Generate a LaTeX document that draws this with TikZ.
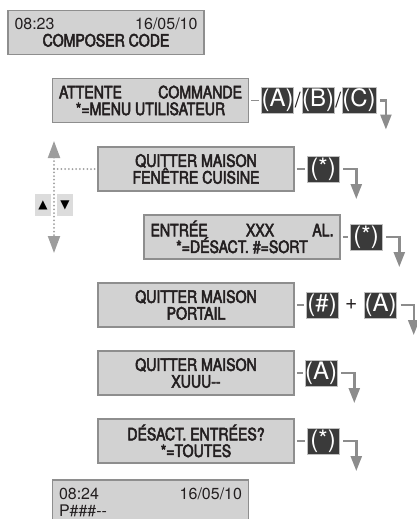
\documentclass[tikz,border=0pt]{standalone}
\usepackage{fontspec}
\usetikzlibrary{positioning,arrows.meta}
\newfontfamily\lcdfont[FakeStretch=0.83,FakeBold=3]{TeX Gyre Heros}
\newfontfamily\lcdplain{TeX Gyre Heros}
\newfontfamily\keyfont{TeX Gyre Heros}
\newfontfamily\symfont{DejaVu Sans}
\definecolor{lcdfill}{RGB}{210,210,210}
\definecolor{lcdedge}{RGB}{142,142,142}
\definecolor{lcdink}{RGB}{35,31,32}
\definecolor{keyfill}{RGB}{58,58,58}
\definecolor{flowgray}{RGB}{140,140,140}
\definecolor{navfill}{RGB}{220,220,220}
\newcommand{\lcdrow}[2]{\makebox[183pt]{#1\hfill#2}}
\newcommand{\lcdleft}[1]{\makebox[183pt][l]{#1}}
\newcommand{\plainline}{\lcdplain\fontsize{16}{16.7}\selectfont}

\begin{document}
\begin{tikzpicture}[x=1pt,y=-1pt,
  lcd/.style={draw=lcdedge,fill=lcdfill,line width=1.8pt,minimum width=196pt,minimum height=44pt,inner sep=0pt,align=center,text=lcdink,font=\lcdfont\fontsize{17}{16.7}\selectfont},
  key/.style={fill=keyfill,draw=black!25,line width=0.4pt,text=white,minimum width=32pt,minimum height=26pt,inner sep=0pt,font=\keyfont\fontsize{24}{24}\selectfont},
  slash/.style={inner sep=0pt,text=lcdink,font=\keyfont\fontsize{21}{21}\selectfont},
  notch/.style={lcdedge,line width=1.5pt,shorten <=2pt,shorten >=2pt},
  flow/.style={flowgray,line width=2.4pt,-{Triangle[width=11pt,length=15pt]}},
  nav/.style={flowgray!85,line width=2pt,line cap=round,dash pattern=on 0pt off 3.7pt},
  navkey/.style={fill=navfill,minimum width=16pt,minimum height=22pt,inner sep=0pt,font=\symfont\fontsize{12}{12}\selectfont}]

\useasboundingbox (0,0) rectangle (417,519);

% display screens
\node[lcd] (home) at (106,32.5) {{\plainline\lcdrow{08:23}{16/05/10}}\\COMPOSER CODE};
\node[lcd] (wait) at (150.5,100.5) {\lcdrow{ATTENTE}{COMMANDE}\\*=MENU UTILISATEUR};
\node[lcd] (win) at (196,169) {QUITTER MAISON\\FENÊTRE CUISINE};
\node[lcd] (entry) at (242,237) {\lcdrow{ENTRÉE}{XXX\hfill AL.}\\*=DÉSACT. \#=SORT};
\node[lcd] (gate) at (196,305) {QUITTER MAISON\\PORTAIL};
\node[lcd] (code) at (196,373) {QUITTER MAISON\\XUUU-{}-};
\node[lcd] (off) at (196,441) {DÉSACT. ENTRÉES?\\*=TOUTES};
\node[lcd,font=\plainline] (done) at (150.5,502) {\lcdrow{08:24}{16/05/10}\\\lcdleft{P\#\#\#-{}-}};

% keys
\node[key,right=12pt of wait] (wa) {(A)};
\node[key,right=8pt of wa] (wb) {(B)};
\node[key,right=8pt of wb] (wc) {(C)};
\path (wa) -- (wb) node[midway,slash] (s1) {/};
\path (wb) -- (wc) node[midway,slash] (s2) {/};
\node[key,right=12pt of win] (wst) {(*)};
\node[key,right=9pt of entry] (est) {(*)};
\node[key,right=11pt of gate] (gh) {(\#)};
\node[key,right=26pt of gh] (ga) {(A)};
\path (gh) -- (ga) node[midway,slash] (plus) {+};
\node[key,right=10pt of code] (ca) {(A)};
\node[key,right=12pt of off] (ost) {(*)};

\foreach \b/\k in {wait/wa,win/wst,entry/est,gate/gh,code/ca,off/ost}
  \draw[notch] (\b.east) -- (\k.west);

\draw[flow] ([xshift=4pt]wc.east) -| ++(6,29);
\foreach \k in {wst,est,ga,ca,ost}
  \draw[flow] ([xshift=4pt]\k.east) -| ++(13,30);

% scroll arrows
\coordinate (navtop) at (54,141);
\coordinate (navbot) at (54,253);
\coordinate (navmid) at (54,169);
\draw[nav,{Triangle[width=12pt,length=17pt]}-{Triangle[width=12pt,length=17pt]}] (navtop) -- (navbot);
\draw[nav] (navmid) -- (win.west);
\node[navkey] (navup) at (43,205) {▲};
\node[navkey] (navdn) at (65,205) {▼};
\end{tikzpicture}
\end{document}
